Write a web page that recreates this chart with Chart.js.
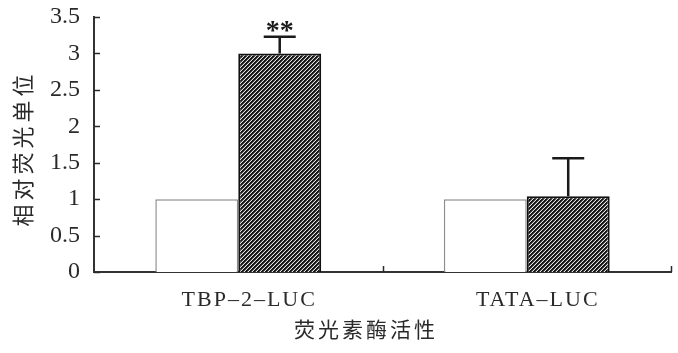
<!DOCTYPE html>
<html>
<head>
<meta charset="utf-8">
<script src="https://cdn.jsdelivr.net/npm/chart.js@4/dist/chart.umd.min.js"></script>
<style>
  html, body { margin: 0; padding: 0; background: #ffffff; }
  #wrap { width: 678px; height: 353px; }
</style>
</head>
<body>
<div id="wrap"><canvas id="chart" width="678" height="353"></canvas></div>
<script>
// Luciferase reporter activity, control vs. treated, relative units
const categories = ['TBP-2-LUC', 'TATA-LUC'];
const controlValues = [1, 1];
const treatedValues = [3.0, 1.04];
const treatedErrors = [0.23, 0.52];
const significance = ['**', ''];
const yTickLabels = ['0', '0.5', '1', '1.5', '2', '2.5', '3', '3.5'];
const yTitle = '相对荧光单位';
const xTitle = '荧光素酶活性';

const INK = '#2a2a2a';
const SERIF = '"Liberation Serif", "DejaVu Serif", serif';
const CJK = '"Noto Sans CJK SC", sans-serif';

// Dense diagonal hatching for the treated bars
function makeHatch() {
  const c = document.createElement('canvas');
  c.width = 4; c.height = 4;
  const g = c.getContext('2d');
  g.fillStyle = '#e6e6e6';
  g.fillRect(0, 0, 4, 4);
  for (let y = 0; y < 4; y++) {
    const x0 = (4 - y) % 4;
    g.fillStyle = '#161616';
    g.fillRect(x0, y, 1, 1);
    g.fillRect((x0 + 1) % 4, y, 1, 1);
    g.fillStyle = '#505050';
    g.fillRect((x0 + 2) % 4, y, 1, 1);
  }
  return g.createPattern(c, 'repeat');
}
const hatch = makeHatch();

// Inward tick marks, error bars, significance stars and axis titles
const decorations = {
  id: 'decorations',
  afterDatasetsDraw(chart) {
    const ctx = chart.ctx;
    const x = chart.scales.x;
    const y = chart.scales.y;
    const area = chart.chartArea;
    ctx.save();

    // y ticks pointing into the plot
    ctx.strokeStyle = INK;
    ctx.lineWidth = 1.5;
    y.ticks.forEach(t => {
      const py = Math.round(y.getPixelForValue(t.value)) + 0.5;
      ctx.beginPath();
      ctx.moveTo(area.left, py);
      ctx.lineTo(area.left + 6, py);
      ctx.stroke();
    });

    // x ticks at category boundaries
    const bounds = [area.right];
    for (let i = 0; i < categories.length - 1; i++) {
      bounds.push((x.getPixelForValue(i) + x.getPixelForValue(i + 1)) / 2);
    }
    bounds.forEach(bx => {
      const px = Math.round(bx) + 0.5;
      ctx.beginPath();
      ctx.moveTo(px, area.bottom);
      ctx.lineTo(px, area.bottom - 6);
      ctx.stroke();
    });

    // error bars on the treated series
    const meta = chart.getDatasetMeta(1);
    ctx.lineWidth = 2.5;
    ctx.strokeStyle = '#1a1a1a';
    meta.data.forEach((bar, i) => {
      const cx = bar.x;
      const yTop = y.getPixelForValue(treatedValues[i] + treatedErrors[i]);
      const yBase = y.getPixelForValue(treatedValues[i]);
      ctx.beginPath();
      ctx.moveTo(cx, yBase);
      ctx.lineTo(cx, yTop);
      ctx.moveTo(cx - 16, yTop);
      ctx.lineTo(cx + 16, yTop);
      ctx.stroke();

      if (significance[i]) {
        ctx.fillStyle = '#1a1a1a';
        ctx.font = 'bold 28px ' + SERIF;
        ctx.textAlign = 'center';
        ctx.textBaseline = 'alphabetic';
        const m = ctx.measureText(significance[i]);
        // glyph bottom sits a few pixels above the cap
        ctx.fillText(significance[i], cx, yTop - 5 - m.actualBoundingBoxDescent);
      }
    });

    // category labels
    ctx.fillStyle = INK;
    ctx.font = '22px ' + SERIF;
    ctx.letterSpacing = '2px';
    ctx.textAlign = 'center';
    ctx.textBaseline = 'middle';
    categories.forEach((c, i) => {
      ctx.fillText(c.replace(/-/g, '\u2013'), x.getPixelForValue(i) + 11, area.bottom + 28);
    });

    // axis titles
    ctx.font = '21px ' + CJK;
    ctx.letterSpacing = '3px';
    ctx.fillText(xTitle, area.left + 272, area.bottom + 57);

    ctx.save();
    ctx.translate(23, (area.top + area.bottom) / 2 + 4);
    ctx.rotate(-Math.PI / 2);
    ctx.font = '22px ' + CJK;
    ctx.letterSpacing = '4px';
    ctx.fillText(yTitle, 0, 0);
    ctx.restore();

    ctx.restore();
  }
};

new Chart(document.getElementById('chart'), {
  type: 'bar',
  data: {
    labels: categories,
    datasets: [
      {
        label: 'control',
        data: controlValues,
        backgroundColor: '#ffffff',
        borderColor: '#8c8c8c',
        borderWidth: 1.5
      },
      {
        label: 'treated',
        data: treatedValues,
        backgroundColor: hatch,
        borderColor: '#111111',
        borderWidth: 2
      }
    ]
  },
  options: {
    responsive: false,
    animation: false,
    devicePixelRatio: 1,
    layout: { padding: { top: 17, right: 7, bottom: 0, left: 0 } },
    plugins: { legend: { display: false }, tooltip: { enabled: false } },
    datasets: { bar: { categoryPercentage: 0.575, barPercentage: 1 } },
    scales: {
      x: {
        grid: { display: false, drawTicks: false },
        border: { display: true, color: '#333333', width: 2 },
        ticks: { display: false },
        afterFit(s) { s.height = 81; s.paddingLeft = 0; s.paddingRight = 0; }
      },
      y: {
        min: 0,
        max: 3.5,
        grid: { display: false, drawTicks: false },
        border: { display: true, color: '#333333', width: 2 },
        ticks: {
          stepSize: 0.5,
          padding: 14,
          color: INK,
          font: { family: SERIF, size: 24 },
          callback: (v, i) => yTickLabels[i]
        },
        afterFit(s) { s.width = 94; s.paddingTop = 0; s.paddingBottom = 0; }
      }
    }
  },
  plugins: [decorations]
});
</script>
</body>
</html>
